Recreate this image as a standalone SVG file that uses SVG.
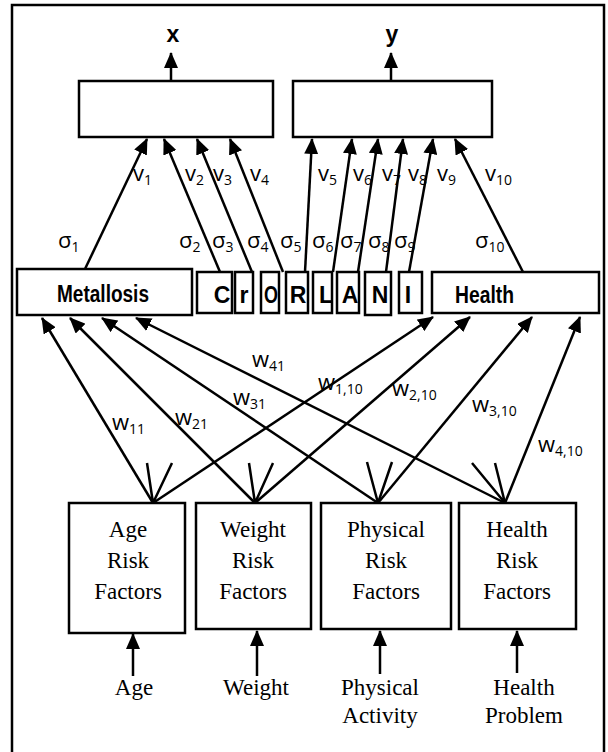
<svg xmlns="http://www.w3.org/2000/svg" width="608" height="752" viewBox="0 0 608 752">
<defs>
<marker id="ah" viewBox="0 0 16 14" refX="15" refY="7" markerWidth="16" markerHeight="14" markerUnits="userSpaceOnUse" orient="auto">
<path d="M0,0 L16,7 L0,14 z" fill="#000"/>
</marker>
<style>
.box{fill:#fff;stroke:#000;stroke-width:2.5}
.c{fill:none;stroke:#000;stroke-width:2.5}
.a{marker-end:url(#ah)}
.bold{font-family:"Liberation Sans",Arial,sans-serif;font-weight:bold;font-size:23px;fill:#000}
.ser{font-family:"Liberation Serif","Times New Roman",serif;font-size:23px;fill:#000;text-anchor:middle}
.lab{font-family:"Open Sans","Noto Sans",sans-serif;font-size:22px;fill:#000}
.sub{font-size:14px}
</style>
</defs>
<rect x="12" y="5" width="592" height="760" fill="#fff" stroke="#000" stroke-width="2.5"/>

<g id="out-x"><rect class="box" x="79" y="81" width="194" height="56"/><text class="bold" x="173" y="42" font-size="25" text-anchor="middle">x</text></g>
<g id="out-y"><rect class="box" x="293" y="81" width="199" height="56"/><text class="bold" x="392" y="42" font-size="25" text-anchor="middle">y</text></g>

<g id="metallosis"><rect class="box" x="17" y="269" width="175" height="46"/><text class="bold" x="57" y="302" textLength="92" lengthAdjust="spacingAndGlyphs">Metallosis</text></g>
<g id="n-C"><rect class="box" x="197" y="272" width="35" height="41"/><text class="bold" x="222" y="303" text-anchor="middle">C</text></g>
<g id="n-r"><rect class="box" x="235" y="272" width="18" height="41"/><text class="bold" x="244" y="303" text-anchor="middle">r</text></g>
<g id="n-O"><rect class="box" x="261" y="272" width="18" height="41"/><text class="bold" x="271" y="303" text-anchor="middle" textLength="14" lengthAdjust="spacingAndGlyphs">O</text></g>
<g id="n-R"><rect class="box" x="286" y="272" width="22" height="41"/><text class="bold" x="298" y="303" text-anchor="middle">R</text></g>
<g id="n-L"><rect class="box" x="313" y="272" width="19" height="41"/><text class="bold" x="326" y="303" text-anchor="middle">L</text></g>
<g id="n-A"><rect class="box" x="337" y="272" width="22" height="41"/><text class="bold" x="350" y="303" text-anchor="middle">A</text></g>
<g id="n-N"><rect class="box" x="365" y="272" width="26" height="43"/><text class="bold" x="380" y="303" text-anchor="middle">N</text></g>
<g id="n-I"><rect class="box" x="399" y="272" width="23" height="41"/><text class="bold" x="408" y="303" text-anchor="middle">I</text></g>
<g id="health"><rect class="box" x="432" y="272" width="167" height="41"/><text class="bold" x="455" y="303" textLength="59" lengthAdjust="spacingAndGlyphs">Health</text></g>

<g id="age-rf"><rect class="box" x="69" y="503" width="116" height="130"/><text class="ser" x="128" y="537">Age</text><text class="ser" x="128" y="568">Risk</text><text class="ser" x="128" y="599">Factors</text></g>
<g id="weight-rf"><rect class="box" x="196" y="503" width="115" height="126"/><text class="ser" x="253" y="537">Weight</text><text class="ser" x="253" y="568">Risk</text><text class="ser" x="253" y="599">Factors</text></g>
<g id="physical-rf"><rect class="box" x="321" y="503" width="130" height="126"/><text class="ser" x="386" y="537">Physical</text><text class="ser" x="386" y="568">Risk</text><text class="ser" x="386" y="599">Factors</text></g>
<g id="health-rf"><rect class="box" x="459" y="503" width="117" height="126"/><text class="ser" x="517" y="537">Health</text><text class="ser" x="517" y="568">Risk</text><text class="ser" x="517" y="599">Factors</text></g>

<g id="inputs">
<text class="ser" x="134" y="695">Age</text>
<text class="ser" x="256" y="695">Weight</text>
<text class="ser" x="380" y="695">Physical</text><text class="ser" x="380" y="723">Activity</text>
<text class="ser" x="524" y="695">Health</text><text class="ser" x="524" y="723">Problem</text>
</g>

<g id="connectors">
<path class="c a" d="M171,81 L171,53"/>
<path class="c a" d="M391,81 L391,53"/>
<path class="c a" d="M85,269 L147,139"/>
<path class="c a" d="M220,272 L164,139"/>
<path class="c a" d="M252,272 L197,139"/>
<path class="c a" d="M283,272 L230,139"/>
<path class="c a" d="M305,272 L312,139"/>
<path class="c a" d="M333,272 L352,139"/>
<path class="c a" d="M358,272 L378,139"/>
<path class="c a" d="M386,272 L403,139"/>
<path class="c a" d="M409,272 L433,139"/>
<path class="c a" d="M523,272 L455,139"/>
<path class="c a" d="M153,503 L42,318"/>
<path class="c a" d="M255,503 L70,318"/>
<path class="c a" d="M378,503 L102,318"/>
<path class="c a" d="M505,503 L136,318"/>
<path class="c a" d="M153,503 L433,317"/>
<path class="c a" d="M255,503 L470,317"/>
<path class="c a" d="M378,503 L532,317"/>
<path class="c a" d="M505,503 L580,317"/>
<path class="c" d="M153,503 L147,463 M153,503 L172,463 M255,503 L249,463 M255,503 L273,463 M378,503 L367,462 M378,503 L392,462 M505,503 L472,463 M505,503 L495,463"/>
<path class="c a" d="M133,676 L133,634"/>
<path class="c a" d="M257,676 L257,631"/>
<path class="c a" d="M380,674 L380,631"/>
<path class="c a" d="M517,673 L517,631"/>
</g>

<g id="labels">
<text class="lab" x="133" y="181">v<tspan class="sub" dy="4">1</tspan></text>
<text class="lab" x="185" y="181">v<tspan class="sub" dy="4">2</tspan></text>
<text class="lab" x="213" y="181">v<tspan class="sub" dy="4">3</tspan></text>
<text class="lab" x="250" y="181">v<tspan class="sub" dy="4">4</tspan></text>
<text class="lab" x="318" y="181">v<tspan class="sub" dy="4">5</tspan></text>
<text class="lab" x="353" y="181">v<tspan class="sub" dy="4">6</tspan></text>
<text class="lab" x="382" y="181">v<tspan class="sub" dy="4">7</tspan></text>
<text class="lab" x="408" y="181">v<tspan class="sub" dy="4">8</tspan></text>
<text class="lab" x="437" y="181">v<tspan class="sub" dy="4">9</tspan></text>
<text class="lab" x="485" y="181">v<tspan class="sub" dy="4">10</tspan></text>
<text class="lab" x="58" y="248">σ<tspan class="sub" dy="4">1</tspan></text>
<text class="lab" x="179" y="248">σ<tspan class="sub" dy="4">2</tspan></text>
<text class="lab" x="212" y="248">σ<tspan class="sub" dy="4">3</tspan></text>
<text class="lab" x="247" y="248">σ<tspan class="sub" dy="4">4</tspan></text>
<text class="lab" x="280" y="248">σ<tspan class="sub" dy="4">5</tspan></text>
<text class="lab" x="312" y="248">σ<tspan class="sub" dy="4">6</tspan></text>
<text class="lab" x="340" y="248">σ<tspan class="sub" dy="4">7</tspan></text>
<text class="lab" x="368" y="248">σ<tspan class="sub" dy="4">8</tspan></text>
<text class="lab" x="394" y="248">σ<tspan class="sub" dy="4">9</tspan></text>
<text class="lab" x="475" y="248">σ<tspan class="sub" dy="4">10</tspan></text>
<text class="lab" x="112" y="430">w<tspan class="sub" dy="4">11</tspan></text>
<text class="lab" x="175" y="425">w<tspan class="sub" dy="4">21</tspan></text>
<text class="lab" x="233" y="405">w<tspan class="sub" dy="4">31</tspan></text>
<text class="lab" x="252" y="367">w<tspan class="sub" dy="4">41</tspan></text>
<text class="lab" x="318" y="390">w<tspan class="sub" dy="4">1,10</tspan></text>
<text class="lab" x="392" y="396">w<tspan class="sub" dy="4">2,10</tspan></text>
<text class="lab" x="472" y="412">w<tspan class="sub" dy="4">3,10</tspan></text>
<text class="lab" x="538" y="452">w<tspan class="sub" dy="4">4,10</tspan></text>
</g>
</svg>
